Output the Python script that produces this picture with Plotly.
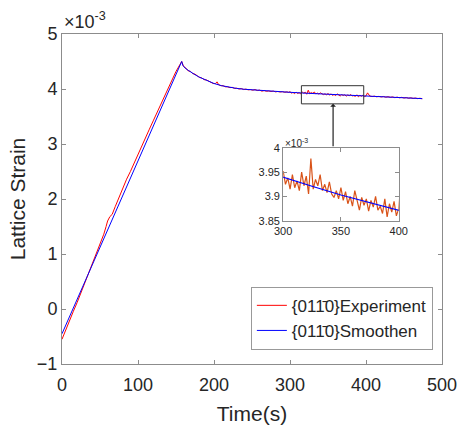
import plotly.graph_objects as go

# ---- data (strain in units of 1e-3) ----
exp_time = [0, 5, 10, 15, 20, 25, 30, 35, 40, 45, 50, 55, 58, 60, 63, 66, 70, 75, 80, 85,
            90, 95, 100, 105, 110, 115, 120, 125, 130, 135, 140, 145, 150, 155, 157.5,
            160, 163, 166, 169, 172, 175, 178, 181, 184, 187, 190, 193, 196, 199, 202, 204,
            206, 209, 212, 215, 218, 221, 224, 227, 230, 233, 236, 239, 242, 245, 248, 251,
            254, 257, 260, 263, 266, 269, 272, 275, 278, 281, 284, 287, 290, 293, 296, 298,
            300, 302, 304, 306, 308, 310, 312, 314, 316, 318, 320, 322, 324, 326, 328, 330,
            332, 334, 336, 338, 340, 342, 344, 346, 348, 350, 352, 354, 356, 358, 360, 362,
            364, 366, 368, 370, 372, 374, 376, 378, 380, 382, 384, 386, 388, 390, 392, 394,
            396, 398, 400, 402, 405, 408, 411, 414, 417, 420, 423, 426, 429, 432, 435, 438,
            441, 444, 447, 450, 453, 456, 459, 462, 465, 468, 471, 474]
exp_strain = [-0.55, -0.37, -0.21, -0.04, 0.12, 0.30, 0.47, 0.65, 0.82, 1.00, 1.17, 1.36,
              1.50, 1.60, 1.68, 1.72, 1.86, 2.03, 2.20, 2.36, 2.50, 2.66, 2.80, 2.97, 3.12,
              3.27, 3.42, 3.57, 3.72, 3.88, 4.03, 4.17, 4.32, 4.44, 4.50,
              4.41, 4.38, 4.33, 4.32, 4.28, 4.27, 4.24, 4.21, 4.20, 4.17, 4.165, 4.14, 4.13,
              4.10, 4.10, 4.13, 4.08, 4.06, 4.06, 4.04, 4.04, 4.025, 4.03, 4.01, 4.015, 4.00,
              4.008, 3.99, 3.998, 3.985, 3.99, 3.978, 3.99, 3.972, 3.98, 3.96, 3.972, 3.958,
              3.965, 3.955, 3.962, 3.948, 3.955, 3.945, 3.952, 3.940, 3.948, 3.938,
              3.952, 3.925, 3.938, 3.915, 3.945, 3.918, 3.932, 3.912, 3.950, 3.922, 3.942,
              3.905, 3.978, 3.915, 3.935, 3.922, 3.945, 3.912, 3.925, 3.908, 3.930, 3.905,
              3.898, 3.912, 3.895, 3.918, 3.892, 3.910, 3.885, 3.900, 3.880, 3.912, 3.890,
              3.872, 3.898, 3.882, 3.895, 3.870, 3.892, 3.878, 3.900, 3.872, 3.880, 3.865,
              3.895, 3.858, 3.885, 3.868, 3.890, 3.860, 3.875,
              3.93, 3.872, 3.862, 3.870, 3.858, 3.866, 3.855, 3.864, 3.850, 3.860, 3.848,
              3.856, 3.842, 3.852, 3.840, 3.848, 3.836, 3.845, 3.832, 3.840, 3.828, 3.836,
              3.825, 3.832, 3.822]

smooth_time = [0, 157.5, 159, 162, 166, 170, 175, 180, 185, 190, 195, 200, 210, 220, 230,
               240, 250, 260, 270, 280, 290, 300, 325, 350, 375, 400, 425, 450, 474]
smooth_strain = [-0.45, 4.50, 4.43, 4.38, 4.34, 4.30, 4.26, 4.22, 4.19, 4.16, 4.13, 4.10,
                 4.06, 4.03, 4.01, 3.995, 3.985, 3.972, 3.962, 3.955, 3.947, 3.940, 3.921,
                 3.903, 3.888, 3.873, 3.858, 3.842, 3.825]

x_ticks = [0, 100, 200, 300, 400, 500]
y_ticks = [-1, 0, 1, 2, 3, 4, 5]
inset_x_ticks = [300, 350, 400]
inset_y_ticks = [3.85, 3.9, 3.95, 4.0]
inset_y_labels = ["3.85", "3.9", "3.95", "4"]

label_exp = "{011\u03040}Experiment"
label_smooth = "{011\u03040}Smoothen"

FONT = "Liberation Sans, Arial, sans-serif"
TXT = "#262626"
AX = "#8c8c8c"

fig = go.Figure()
fig.add_trace(go.Scatter(x=exp_time, y=exp_strain, mode="lines", name=label_exp,
                         line=dict(color="#ff0000", width=1)))
fig.add_trace(go.Scatter(x=smooth_time, y=smooth_strain, mode="lines", name=label_smooth,
                         line=dict(color="#0000ff", width=1)))
# inset
fig.add_trace(go.Scatter(x=exp_time, y=exp_strain, mode="lines", showlegend=False,
                         line=dict(color="#D95319", width=1.2), xaxis="x2", yaxis="y2"))
fig.add_trace(go.Scatter(x=smooth_time, y=smooth_strain, mode="lines", showlegend=False,
                         line=dict(color="#0000ff", width=1.2), xaxis="x2", yaxis="y2"))

axis_common = dict(showgrid=False, zeroline=False, showline=True, linecolor=AX, linewidth=1,
                   mirror="ticks", ticks="inside", tickcolor=AX, ticklen=4, automargin=False)

fig.update_layout(
    width=461, height=428,
    margin=dict(l=61.5, r=18.5, t=34, b=64),
    paper_bgcolor="white", plot_bgcolor="white",
    font=dict(family=FONT, color=TXT),
    xaxis=dict(range=[0, 500], tickvals=x_ticks, tickfont=dict(size=18, color=TXT),
               ticklabelstandoff=4,
               title=dict(text="Time(s)", font=dict(size=21, color=TXT), standoff=12),
               domain=[0, 1], **axis_common),
    yaxis=dict(range=[-1, 5], tickvals=y_ticks, tickfont=dict(size=18, color=TXT),
               title=dict(text="Lattice Strain", font=dict(size=21, color=TXT), standoff=5),
               domain=[0, 1], **axis_common),
    xaxis2=dict(range=[300, 400], tickvals=inset_x_ticks, tickfont=dict(size=11, color=TXT),
                domain=[0.582, 0.886], anchor="y2", **axis_common),
    yaxis2=dict(range=[3.85, 4.0], tickvals=inset_y_ticks, ticktext=inset_y_labels,
                tickfont=dict(size=11, color=TXT), domain=[0.434, 0.655], anchor="x2",
                **axis_common),
    legend=dict(x=0.497, y=0.234, xanchor="left", yanchor="top",
                bgcolor="white", bordercolor="#999999", borderwidth=1,
                font=dict(size=17, color=TXT), itemwidth=30,
                tracegroupgap=0),
    showlegend=True,
)

fig.add_shape(type="rect", xref="x", yref="y", x0=315, x1=397, y0=3.73, y1=4.06,
              line=dict(color="#333333", width=1))
fig.add_annotation(xref="x", yref="y", axref="x", ayref="y", x=356.7, y=3.73,
                   ax=356.7, ay=2.93, showarrow=True, arrowhead=1, arrowsize=0.8,
                   arrowwidth=1.2, arrowcolor="#222222", text="")
fig.add_annotation(xref="paper", yref="paper", x=0.0, y=1.0, xanchor="left", yanchor="bottom",
                   text="\u00d710<sup>-3</sup>", showarrow=False,
                   font=dict(size=18, color=TXT))
fig.add_annotation(xref="x2 domain", yref="y2 domain", x=0.0, y=1.0, xanchor="left",
                   yanchor="bottom", text="\u00d710<sup>-3</sup>", showarrow=False,
                   font=dict(size=10, color=TXT), yshift=-3)

fig.write_html("out.html", config={"displayModeBar": False},
               post_script="document.body.style.margin='0px';")
